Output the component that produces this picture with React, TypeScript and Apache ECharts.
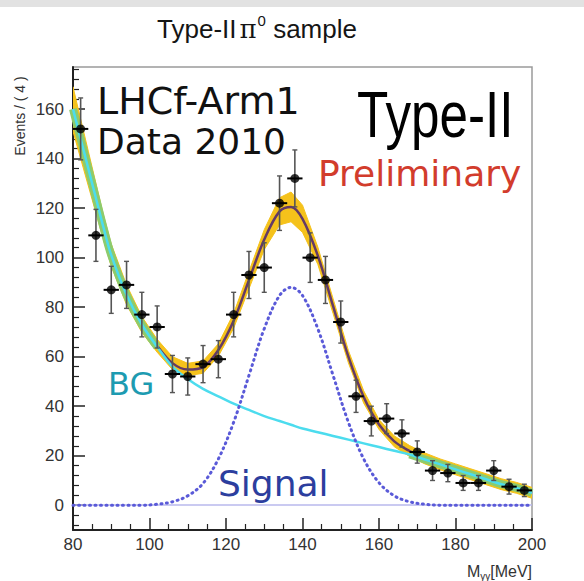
import React, { useEffect, useRef } from 'react';
import * as echarts from 'echarts';

// ---- data ----
const dataX = [82, 86, 90, 94, 98, 102, 106, 110, 114, 118, 122, 126, 130, 134, 138, 142, 146, 150, 154, 158, 162, 166, 170, 174, 178, 182, 186, 190, 194, 198];
const dataY = [152, 109, 87, 89, 77, 72, 53, 52, 57, 59, 77, 93, 96, 122, 132, 100, 91, 74, 44, 34, 35, 29, 21.5, 14, 13, 9, 9, 14, 7.5, 6];
const dataErr = [12.5, 10.5, 9.5, 9.5, 9, 8.5, 7.5, 7.5, 7.5, 7.5, 9, 9.5, 10, 11, 11.5, 10, 9.5, 8.5, 6.5, 6, 6, 5.5, 4.5, 4, 3.5, 3, 3, 4, 3, 2.5];

const curveX = [80, 82, 84, 86, 88, 90, 94, 98, 102, 106, 110, 114, 118, 122, 126, 130, 134, 137, 140, 144, 148, 152, 156, 160, 164, 168, 172, 176, 180, 184, 188, 192, 196, 200];
const bgY = [160, 148, 136, 124, 112, 101, 85, 73, 64, 56, 51, 47, 44, 41, 38.5, 36, 34, 32.5, 31, 29.5, 28, 26.5, 25, 23.5, 22, 20.5, 18.5, 16.5, 14.5, 12.5, 10.5, 8.5, 7, 5];
const signalY = [0, 0, 0, 0, 0, 0, 0, 0, 0.4, 1.4, 3.8, 8.8, 18.7, 33.5, 52.4, 71.3, 84.7, 88, 84.7, 71.3, 52.4, 33.5, 18.7, 9.1, 3.8, 1.4, 0.4, 0, 0, 0, 0, 0, 0, 0];
const totalY = [160, 148, 136, 124, 112, 101, 85, 73, 64.4, 57.4, 54.8, 55.8, 62.7, 74.5, 90.9, 107.3, 118.7, 120.5, 115.7, 100.8, 80.4, 60, 43.7, 32.6, 25.8, 21.9, 18.9, 16.5, 14.5, 12.5, 10.5, 8.5, 7, 5];
const bandLo = [151, 140, 129, 118, 107, 96.5, 81, 69.8, 61.8, 54.8, 52.3, 53.3, 60.2, 71.5, 87.4, 103.3, 113.2, 114.5, 110.2, 97.3, 77.4, 57.5, 41.2, 30.6, 23.6, 19.7, 16.7, 14.3, 12.3, 10.3, 8.3, 6.3, 4.8, 2.8];
const bandHi = [169, 156, 143, 130, 117, 105.5, 89, 76.2, 67, 60, 57.3, 58.3, 65.2, 77.5, 94.4, 111.3, 124.2, 126.5, 121.2, 104.3, 83.4, 62.5, 46.2, 34.6, 28, 24.1, 21.1, 18.7, 16.7, 14.7, 12.7, 10.7, 9.2, 7.2];

const xTickLabels = [80, 100, 120, 140, 160, 180, 200];
const yLabelValues = [0, 20, 40, 60, 80, 100, 120, 140, 160];

const Y_MIN = -10;
const Y_MAX = 177;

export default function App() {
  const ref = useRef<HTMLDivElement>(null);

  useEffect(() => {
    document.body.style.margin = '0';
    const chart = echarts.init(ref.current as HTMLDivElement, null, { renderer: 'svg' });

    const yMinor: number[] = [];
    for (let v = -8; v <= 176; v += 4) {
      if (v % 20 !== 0) yMinor.push(v);
    }

    const pts = (ys: number[]) => curveX.map((x, i) => [x, ys[i]]);
    const overlap = curveX.map((x, i) => (x <= 104 || x >= 168 ? [x, bgY[i]] : [x, '-']));

    const grid = { left: 73, right: 52, top: 67, bottom: 51 };
    const font = 'Liberation Sans, Arial, sans-serif';

    const option: any = {
      animation: false,
      backgroundColor: '#ffffff',
      grid: [
        { ...grid, show: true, borderColor: '#9a9a9a', borderWidth: 1.5, backgroundColor: 'transparent' },
        { ...grid, show: false },
      ],
      xAxis: [
        {
          type: 'value',
          gridIndex: 0,
          min: 80,
          max: 200,
          interval: 20,
          axisLine: { show: true, onZero: false, lineStyle: { color: '#222', width: 2 } },
          axisTick: { show: true, inside: true, length: 12, lineStyle: { color: '#222', width: 1.5 } },
          minorTick: { show: true, splitNumber: 4, length: 6, lineStyle: { color: '#222', width: 1.2 } },
          axisLabel: { fontSize: 17, color: '#333', fontFamily: font, margin: 6, customValues: xTickLabels },
          splitLine: { show: false },
          minorSplitLine: { show: false },
        },
        { type: 'value', gridIndex: 1, min: 80, max: 200, show: false },
      ],
      yAxis: [
        {
          type: 'value',
          gridIndex: 0,
          min: Y_MIN,
          max: Y_MAX,
          axisLine: { show: true, onZero: false, lineStyle: { color: '#222', width: 2 } },
          axisTick: { show: true, inside: true, length: 12, customValues: yLabelValues, lineStyle: { color: '#222', width: 1.5 } },
          axisLabel: { fontSize: 17, color: '#333', fontFamily: font, margin: 9, customValues: yLabelValues },
          splitLine: { show: false },
        },
        {
          type: 'value',
          gridIndex: 1,
          min: Y_MIN,
          max: Y_MAX,
          axisLine: { show: false },
          axisTick: { show: true, inside: true, length: 6, customValues: yMinor, lineStyle: { color: '#222', width: 1.2 } },
          axisLabel: { show: false },
          splitLine: { show: false },
        },
      ],
      series: [
        {
          type: 'custom',
          name: 'band',
          data: [[curveX[0], bandLo[0]]],
          encode: { x: 0, y: 1 },
          silent: true,
          clip: true,
          renderItem: (params: any, api: any) => {
            if (params.dataIndex !== 0) return null;
            const points: number[][] = [];
            for (let i = 0; i < curveX.length; i++) points.push(api.coord([curveX[i], bandLo[i]]));
            for (let i = curveX.length - 1; i >= 0; i--) points.push(api.coord([curveX[i], bandHi[i]]));
            return {
              type: 'polygon',
              shape: { points },
              style: { fill: '#f5c21b', stroke: '#f5c21b', lineWidth: 1 },
            };
          },
          z: 1,
        },
        {
          type: 'line',
          name: 'total',
          data: pts(totalY),
          smooth: 0.35,
          symbol: 'none',
          lineStyle: { color: '#643a66', width: 2.5 },
          z: 2,
        },
        {
          type: 'line',
          name: 'overlap',
          data: overlap,
          smooth: 0.35,
          symbol: 'none',
          connectNulls: false,
          lineStyle: { color: '#8ccb6e', width: 8 },
          z: 3,
        },
        {
          type: 'line',
          name: 'BG',
          data: pts(bgY),
          smooth: 0.35,
          symbol: 'none',
          lineStyle: { color: '#4cdcee', width: 2.5 },
          z: 4,
        },
        {
          type: 'line',
          name: 'Signal',
          data: pts(signalY),
          smooth: 0.35,
          symbol: 'none',
          lineStyle: { color: '#5a5ad8', width: 3, type: [1, 4.5], cap: 'round' },
          markLine: {
            silent: true,
            symbol: 'none',
            label: { show: false },
            lineStyle: { color: '#b9b9ec', width: 1.5, type: 'solid' },
            data: [{ yAxis: 0 }],
          },
          z: 5,
        },
        {
          type: 'custom',
          name: 'errors',
          data: dataX.map((x, i) => [x, dataY[i], dataErr[i]]),
          encode: { x: 0, y: 1 },
          renderItem: (_params: any, api: any) => {
            const x = api.value(0);
            const y = api.value(1);
            const e = api.value(2);
            const top = api.coord([x, y + e]);
            const bot = api.coord([x, y - e]);
            const l = api.coord([x - 2, y]);
            const r = api.coord([x + 2, y]);
            const cap = 2.5;
            return {
              type: 'group',
              children: [
                { type: 'line', shape: { x1: top[0], y1: top[1], x2: bot[0], y2: bot[1] }, style: { stroke: '#555', lineWidth: 1.6 } },
                { type: 'line', shape: { x1: top[0] - cap, y1: top[1], x2: top[0] + cap, y2: top[1] }, style: { stroke: '#555', lineWidth: 1.4 } },
                { type: 'line', shape: { x1: bot[0] - cap, y1: bot[1], x2: bot[0] + cap, y2: bot[1] }, style: { stroke: '#555', lineWidth: 1.4 } },
                { type: 'line', shape: { x1: l[0], y1: l[1], x2: r[0], y2: r[1] }, style: { stroke: '#000', lineWidth: 2 } },
              ],
            };
          },
          z: 6,
        },
        {
          type: 'scatter',
          name: 'data',
          data: dataX.map((x, i) => [x, dataY[i]]),
          symbol: 'circle',
          symbolSize: 9,
          itemStyle: { color: '#000' },
          z: 7,
        },
      ],
      graphic: [
        { type: 'rect', shape: { x: 0, y: 0, width: 584, height: 7 }, style: { fill: '#e2e2e2' }, z: 0 },
        {
          type: 'text',
          x: 257,
          y: 29,
          z: 100,
          style: {
            text: '{a|Type-II}{p|π}{s|0}{a| sample}',
            textAlign: 'center',
            textVerticalAlign: 'middle',
            rich: {
              a: { fontSize: 26, fontFamily: font, fill: '#151515', lineHeight: 32 },
              p: { fontSize: 26, fontFamily: 'DejaVu Serif, serif', fill: '#151515', lineHeight: 32, padding: [0, 1, 0, 3] },
              s: { fontSize: 15, fontFamily: font, fill: '#151515', lineHeight: 32, verticalAlign: 'top' },
            },
          },
        },
        {
          type: 'text',
          x: 20,
          y: 116,
          rotation: Math.PI / 2,
          z: 100,
          style: { text: 'Events / ( 4 )', fontSize: 14, fontFamily: font, fill: '#333', textAlign: 'center', textVerticalAlign: 'middle' },
        },
        {
          type: 'text',
          x: 532,
          y: 571,
          z: 100,
          style: {
            text: '{m|M}{s|γγ}{m|[MeV]}',
            textAlign: 'right',
            textVerticalAlign: 'middle',
            rich: {
              m: { fontSize: 16, fontFamily: font, fill: '#333', lineHeight: 20 },
              s: { fontSize: 10, fontFamily: font, fill: '#333', lineHeight: 20, verticalAlign: 'bottom' },
            },
          },
        },
        {
          type: 'text', x: 97, y: 101, z: 100,
          style: { text: 'LHCf-Arm1', fontSize: 38, fontFamily: 'DejaVu Sans', fill: '#111', textAlign: 'left', textVerticalAlign: 'middle' },
        },
        {
          type: 'text', x: 97, y: 141, z: 100,
          style: { text: 'Data 2010', fontSize: 36, fontFamily: 'DejaVu Sans', fill: '#111', textAlign: 'left', textVerticalAlign: 'middle' },
        },
        {
          type: 'text', x: 357, y: 115, z: 100, scaleX: 0.8,
          style: { text: 'Type-II', fontSize: 64, fontFamily: font, fill: '#000', textAlign: 'left', textVerticalAlign: 'middle' },
        },
        {
          type: 'text', x: 318, y: 173, z: 100,
          style: { text: 'Preliminary', fontSize: 36, fontFamily: 'DejaVu Sans', fill: '#d23c2c', textAlign: 'left', textVerticalAlign: 'middle' },
        },
        {
          type: 'text', x: 108, y: 384, z: 100,
          style: { text: 'BG', fontSize: 32, fontFamily: 'DejaVu Sans', fill: '#1d9bb1', textAlign: 'left', textVerticalAlign: 'middle' },
        },
        {
          type: 'text', x: 218, y: 483, z: 100,
          style: { text: 'Signal', fontSize: 36, fontFamily: 'DejaVu Sans', fill: '#2c3e9e', textAlign: 'left', textVerticalAlign: 'middle' },
        },
      ],
    };

    chart.setOption(option);
    return () => chart.dispose();
  }, []);

  return (
    <div
      ref={ref}
      style={{ width: 584, height: 581, position: 'absolute', left: 0, top: 0, background: '#fff' }}
    />
  );
}
